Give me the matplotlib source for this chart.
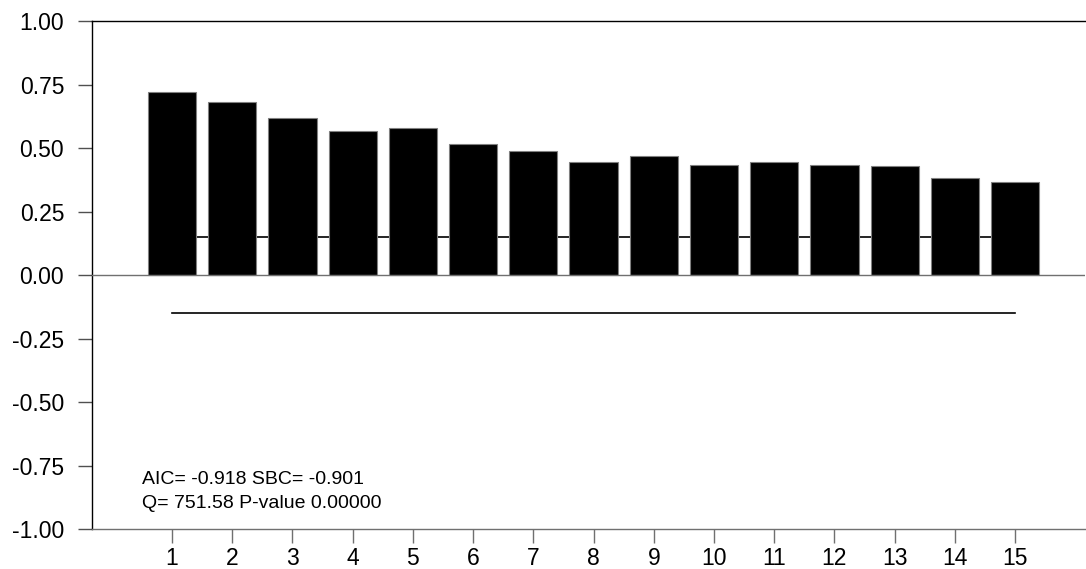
import matplotlib
matplotlib.use("Agg")
import matplotlib.pyplot as plt

# ─── DATA ────────────────────────────────────────────────
LAGS = list(range(1, 16))
ACF = [0.722, 0.681, 0.617, 0.568, 0.579, 0.515, 0.487, 0.445,
       0.468, 0.432, 0.445, 0.432, 0.429, 0.381, 0.365]
CONF_BAND = 0.15
Y_TICKS = [1.00, 0.75, 0.50, 0.25, 0.00, -0.25, -0.50, -0.75, -1.00]
STATS_TEXT = ["AIC= -0.918 SBC= -0.901", "Q= 751.58 P-value 0.00000"]
# ─────────────────────────────────────────────────────────

plt.rcParams["font.family"] = ["Liberation Sans", "DejaVu Sans"]

fig = plt.figure(figsize=(10.86, 5.69), dpi=100)
ax = fig.add_axes([0.0847, 0.0703, 0.9143, 0.8927])

# bars
ax.bar(LAGS, ACF, width=0.8, color="black", edgecolor="#808080",
       linewidth=0.8, zorder=3)

# confidence band lines (upper one sits behind the bars)
ax.plot([LAGS[0], LAGS[-1]], [CONF_BAND, CONF_BAND], color="black",
        linewidth=1.2, zorder=2)
ax.plot([LAGS[0], LAGS[-1]], [-CONF_BAND, -CONF_BAND], color="black",
        linewidth=1.2, zorder=2)

# zero line
ax.axhline(0, color="#707070", linewidth=1.0, zorder=4)

ax.set_xlim(-0.33, 16.16)
ax.set_ylim(-1.0, 1.0)
ax.set_yticks(Y_TICKS)
ax.set_yticklabels([f"{v:.2f}" for v in Y_TICKS])
ax.set_xticks(LAGS)
ax.set_xticklabels([str(v) for v in LAGS])

ax.tick_params(axis="y", direction="out", length=10, width=1.0,
               color="#505050", labelsize=16.5, pad=10)
ax.tick_params(axis="x", direction="out", length=10, width=1.0,
               color="#707070", labelsize=16.5, pad=3)

ax.spines["right"].set_visible(False)
ax.spines["top"].set_color("black")
ax.spines["left"].set_color("black")
ax.spines["bottom"].set_color("#707070")
for s in ax.spines.values():
    s.set_linewidth(1.0)

ax.text(0.050, 0.098, STATS_TEXT[0], transform=ax.transAxes,
        fontsize=14, va="center", ha="left")
ax.text(0.050, 0.051, STATS_TEXT[1], transform=ax.transAxes,
        fontsize=14, va="center", ha="left")

fig.savefig("out.png", dpi=100)
